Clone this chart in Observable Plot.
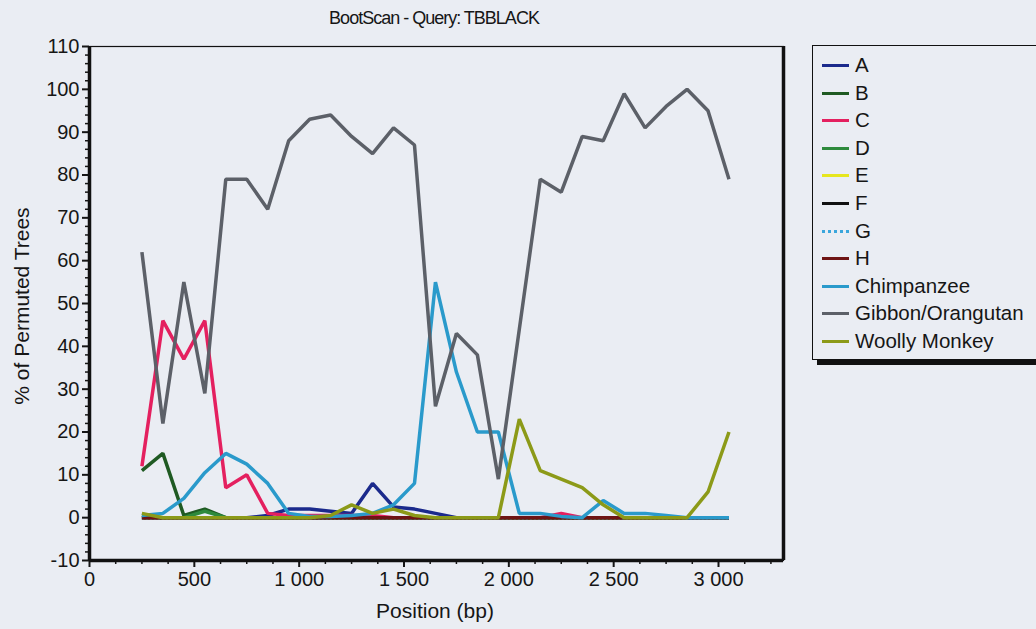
<!DOCTYPE html>
<html><head><meta charset="utf-8">
<script src="https://cdn.jsdelivr.net/npm/d3@7"></script>
<script src="https://cdn.jsdelivr.net/npm/@observablehq/plot@0.6"></script>
<style>
body{margin:0;background:#eaedf3;font-family:"Liberation Sans",Arial,sans-serif;color:#161616;}
#wrap{position:relative;width:1036px;height:629px;overflow:hidden;background:#eaedf3;}
#wrap svg{position:absolute;left:0;top:0;}
.txt{position:absolute;white-space:nowrap;line-height:1;}
#title{left:434px;top:18px;transform:translate(-50%,-50%);font-size:18px;letter-spacing:-1px;}
#xlab{left:435px;top:610px;transform:translate(-50%,-50%);font-size:21px;}
#ylab{left:21px;top:306px;transform:translate(-50%,-50%) rotate(-90deg);font-size:21px;}
#legend{position:absolute;left:812px;top:45px;width:260px;height:313px;border:1px solid #111;box-shadow:5px 5px 0 #111;background:#eaedf3;}
.item{position:absolute;left:0;width:250px;height:20px;font-size:20.5px;line-height:20px;white-space:nowrap;}
.sw{position:absolute;left:9px;top:9px;width:27px;height:0;border-top:3.5px solid;}
.lbl{position:absolute;left:42px;top:0;}
</style></head><body><div id="wrap">
<div id="title" class="txt">BootScan - Query: TBBLACK</div>
<div id="xlab" class="txt">Position (bp)</div>
<div id="ylab" class="txt">% of Permuted Trees</div>
<div id="legend"></div>
</div>
<script>
// Window centre positions (bp)
const positions = [250,350,450,550,650,750,850,950,1050,1150,1250,1350,1450,1550,1650,1750,1850,1950,2050,2150,2250,2350,2450,2550,2650,2750,2850,2950,3050];

const seriesNames  = ["A","B","C","D","E","F","G","H","Chimpanzee","Gibbon/Orangutan","Woolly Monkey"];
const seriesColors = ["#1b2a8c","#1f5a22","#e4205f","#2e8a3c","#e6e61e","#111111","#3aa6dc","#6e1414","#2a9acb","#5c6068","#8c9a18"];
const seriesDash   = [null,null,null,null,null,null,"2,2",null,null,null,null];

const valuesA = [0,0,0,0,0,0,0.5,2,2,1.5,1,8,2.5,2,1,0,0,0,0,0,0,0,0,0,0,0,0,0,0];
const valuesB = [11,15,0.5,2,0,0,0,0,0,0,0,0,0,0,0,0,0,0,0,0,0,0,0,0,0,0,0,0,0];
const valuesC = [12,46,37,46,7,10,1,0.5,0.5,0.5,0.5,0.5,0,0,0,0,0,0,0,0,1,0,0,0,0,0,0,0,0];
const valuesD = [0.5,0,0,1.5,0,0,0,0,0,0,0,0,0,0,0,0,0,0,0,0,0,0,0,0,0,0,0,0,0];
const valuesE = [0,0,0,0,0,0,0,0,0,0,0,0,0,0,0,0,0,0,0,0,0,0,0,0,0,0,0,0,0];
const valuesF = [0,0,0,0,0,0,0,0,0,0,0,0,0,0,0,0,0,0,0,0,0,0,0,0,0,0,0,0,0];
const valuesG = [0,0,0,0,0,0,0,0,0,0,0,0,0,0,0,0,0,0,0,0,0,0,0,0,0,0,0,0,0];
const valuesH = [0,0,0,0,0,0,0,0,0,0,0,0,0,0,0,0,0,0,0,0,0,0,0,0,0,0,0,0,0];
const valuesChimp  = [0.5,1,4.5,10.5,15,12.5,8,1,0.3,0.3,0.5,1,3,8,55,34,20,20,1,1,0.3,0,4,1,1,0.5,0,0,0];
const valuesGibbon = [62,22,55,29,79,79,72,88,93,94,89,85,91,87,26,43,38,9,44,79,76,89,88,99,91,96,100,95,79];
const valuesWoolly = [1,0,0,0,0,0,0,0,0,0.5,3,1,2,0.5,0,0,0,0,23,11,9,7,3,0,0,0,0,6,20];

const seriesValues = [valuesA,valuesB,valuesC,valuesD,valuesE,valuesF,valuesG,valuesH,valuesChimp,valuesGibbon,valuesWoolly];

// Axis setup
const xDomain = [0, 3310];
const yDomain = [-10, 110];
const xMajor = [0,500,1000,1500,2000,2500,3000];
const xMinor = [125,250,375,625,750,875,1125,1250,1375,1625,1750,1875,2125,2250,2375,2625,2750,2875,3125,3250];
const yMajor = [-10,0,10,20,30,40,50,60,70,80,90,100,110];
const yMinor = d3.range(-10, 111, 2).filter(v => v % 10 !== 0);

const fmtX = d => d3.format(",")(d).replace(/,/g, "\u00a0");
const fmtY = d => String(d);

const lineMarks = seriesNames.map((name, i) => {
  const rows = positions.map((p, j) => ({pos: p, value: seriesValues[i][j]}));
  const opts = {x: "pos", y: "value", stroke: seriesColors[i], strokeWidth: 3.5, strokeLinejoin: "miter", strokeLinecap: "butt"};
  if (seriesDash[i]) opts.strokeDasharray = seriesDash[i];
  return Plot.line(rows, opts);
});

const chart = Plot.plot({
  width: 1036, height: 629,
  marginLeft: 89, marginTop: 46, marginRight: 253, marginBottom: 69,
  style: {background: "transparent", fontFamily: "'Liberation Sans', Arial, sans-serif", fontSize: "20px", color: "#161616"},
  x: {domain: xDomain},
  y: {domain: yDomain},
  marks: [
    Plot.frame({stroke: "#111", strokeWidth: 1.2}),
    ...lineMarks,
    Plot.axisX({ticks: xMinor, tickSize: 4, tickFormat: () => "", label: null, strokeWidth: 1.5}),
    Plot.axisX({ticks: xMajor, tickSize: 7, tickPadding: 4, tickFormat: fmtX, label: null, strokeWidth: 2}),
    Plot.axisY({ticks: yMinor, tickSize: 4, tickFormat: () => "", label: null, strokeWidth: 1.5}),
    Plot.axisY({ticks: yMajor, tickSize: 7, tickPadding: 3, tickFormat: fmtY, label: null, strokeWidth: 2}),
    Plot.ruleX([xDomain[0]], {stroke: "#111", strokeWidth: 3.5}),
    Plot.ruleX([xDomain[1]], {stroke: "#111", strokeWidth: 3.5}),
    Plot.ruleY([yDomain[0]], {stroke: "#111", strokeWidth: 3.5})
  ]
});
document.getElementById("wrap").appendChild(chart);

// Legend
const legend = document.getElementById("legend");
seriesNames.forEach((name, i) => {
  const it = document.createElement("div");
  it.className = "item";
  it.style.top = (9 + i * 27.6) + "px";
  const sw = document.createElement("div");
  sw.className = "sw";
  sw.style.borderTopColor = seriesColors[i];
  if (seriesDash[i]) sw.style.borderTopStyle = "dotted";
  const lb = document.createElement("div");
  lb.className = "lbl";
  lb.textContent = name;
  it.appendChild(sw); it.appendChild(lb);
  legend.appendChild(it);
});
</script>
</body></html>
